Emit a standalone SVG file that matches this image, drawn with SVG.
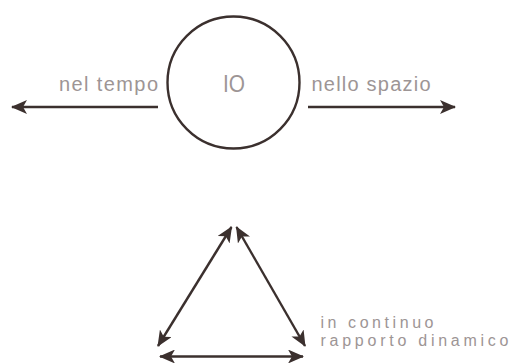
<svg xmlns="http://www.w3.org/2000/svg" width="511" height="363" viewBox="0 0 511 363">
<style>
.ln{stroke:#3b302e;stroke-width:2.4;fill:none}
.t{font-family:"Liberation Sans",Arial,sans-serif;fill:#9d9595}
</style>
<defs>
<marker id="ah" markerUnits="userSpaceOnUse" viewBox="0 0 16 14" refX="15" refY="7" markerWidth="16" markerHeight="14" orient="auto-start-reverse">
<path d="M0,0 L16,7 L0,14 L4,7 Z" fill="#3b302e"/>
</marker>
</defs>
<rect width="511" height="363" fill="#ffffff"/>
<g id="io">
<circle class="ln" cx="233.5" cy="82.5" r="66"/>
<text class="t" x="223" y="91.5" font-size="23" textLength="22" lengthAdjust="spacingAndGlyphs">IO</text>
</g>
<g id="label-tempo"><text class="t" x="59" y="91" font-size="20" textLength="99" lengthAdjust="spacing">nel tempo</text></g>
<g id="label-spazio"><text class="t" x="311.5" y="91" font-size="20" textLength="119" lengthAdjust="spacing">nello spazio</text></g>
<g id="label-rapporto">
<text class="t" x="320.5" y="327.5" font-size="16" textLength="113" lengthAdjust="spacing">in continuo</text>
<text class="t" x="320.5" y="345.5" font-size="16" textLength="188" lengthAdjust="spacing">rapporto dinamico</text>
</g>
<g id="connectors">
<line class="ln" x1="158" y1="107" x2="12" y2="107" marker-end="url(#ah)"/>
<line class="ln" x1="308" y1="107" x2="455" y2="107" marker-end="url(#ah)"/>
<line class="ln" x1="158" y1="346" x2="231.5" y2="227" marker-start="url(#ah)" marker-end="url(#ah)"/>
<line class="ln" x1="236.5" y1="227" x2="305" y2="346" marker-start="url(#ah)" marker-end="url(#ah)"/>
<line class="ln" x1="160" y1="356.5" x2="303" y2="356.5" marker-start="url(#ah)" marker-end="url(#ah)"/>
</g>
</svg>
